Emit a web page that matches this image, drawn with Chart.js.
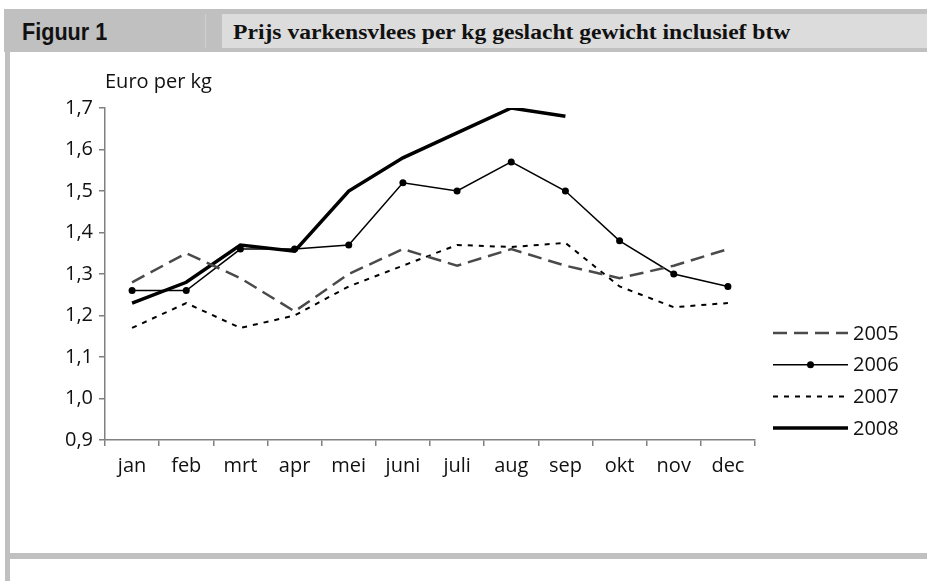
<!DOCTYPE html>
<html>
<head>
<meta charset="utf-8">
<script src="https://cdn.jsdelivr.net/npm/chart.js@4.4.0/dist/chart.umd.min.js"></script>
<style>
  html, body { margin: 0; padding: 0; background: #fff; }
  #wrap { position: relative; width: 927px; height: 581px; overflow: hidden; }
  .blk { position: absolute; background: #c0c0c0; }
  #fig { position: absolute; left: 22px; top: 9px; height: 43px;
         font: bold 24px "Liberation Sans", sans-serif; line-height: 45px; color: #111;
         transform: scaleX(0.9); transform-origin: left center; white-space: nowrap; }
  #title { position: absolute; left: 222px; top: 14px; right: 0; height: 34px; background: #dcdcdc; }
  #title span { position: absolute; left: 11px; top: 0; white-space: nowrap;
                font: bold 20px "Liberation Serif", serif; line-height: 37px; color: #111;
                transform: scaleX(1.18); transform-origin: left center; }
  #c { position: absolute; left: 0; top: 0; }
</style>
</head>
<body>
<div id="wrap">
  <div class="blk" style="left:4px;top:9px;width:923px;height:43px"></div>
  <div style="position:absolute;left:205px;top:14px;width:1px;height:34px;background:#d0d0d0"></div>
  <div id="fig">Figuur 1</div>
  <div id="title"><span>Prijs varkensvlees per kg geslacht gewicht inclusief btw</span></div>
  <div class="blk" style="left:5px;top:52px;width:5px;height:529px"></div>
  <div class="blk" style="left:5px;top:553px;width:922px;height:6px"></div>
  <canvas id="c" width="927" height="581"></canvas>
</div>
<script>
// maanden en prijzen (euro per kg)
const months = ["jan", "feb", "mrt", "apr", "mei", "juni", "juli", "aug", "sep", "okt", "nov", "dec"];
const years = ["2005", "2006", "2007", "2008"];
const prijs2005 = [1.28, 1.35, 1.29, 1.21, 1.30, 1.36, 1.32, 1.36, 1.32, 1.29, 1.32, 1.36];
const prijs2006 = [1.26, 1.26, 1.36, 1.36, 1.37, 1.52, 1.50, 1.57, 1.50, 1.38, 1.30, 1.27];
const prijs2007 = [1.17, 1.23, 1.17, 1.20, 1.27, 1.32, 1.37, 1.365, 1.375, 1.27, 1.22, 1.23];
const prijs2008 = [1.23, 1.28, 1.37, 1.355, 1.50, 1.58, 1.64, 1.70, 1.68];
const yTicks = [0.9, 1.0, 1.1, 1.2, 1.3, 1.4, 1.5, 1.6, 1.7];

const FONT = { family: "'Open Sans', sans-serif", size: 20 };
const AXIS = "#808080";

// legenda rechts: lijnstukje + jaartal
const legendPlugin = {
  id: "sideLegend",
  afterDraw(chart) {
    const { ctx } = chart;
    const x0 = 773, x1 = 848, top = 333, step = 31.7;
    chart.data.datasets.forEach((ds, i) => {
      const y = top + i * step;
      ctx.save();
      ctx.strokeStyle = ds.borderColor;
      ctx.lineWidth = ds.borderWidth;
      ctx.setLineDash(ds.borderDash || []);
      ctx.beginPath();
      ctx.moveTo(x0, y);
      ctx.lineTo(x1, y);
      ctx.stroke();
      ctx.setLineDash([]);
      if (ds.pointRadius > 0) {
        ctx.fillStyle = ds.pointBackgroundColor;
        ctx.beginPath();
        ctx.arc((x0 + x1) / 2, y, ds.pointRadius, 0, Math.PI * 2);
        ctx.fill();
      }
      ctx.fillStyle = "#111";
      ctx.font = `${FONT.size}px ${FONT.family}`;
      ctx.textBaseline = "middle";
      ctx.fillText(ds.label, 853, y + 1);
      ctx.restore();
    });
    // eenheid boven de y-as
    ctx.save();
    ctx.fillStyle = "#111";
    ctx.font = `${FONT.size}px ${FONT.family}`;
    ctx.textBaseline = "middle";
    ctx.fillText("Euro per kg", 105, 82);
    ctx.restore();
  }
};

new Chart(document.getElementById("c"), {
  type: "line",
  data: {
    labels: months,
    datasets: [
      {
        label: years[0],
        data: prijs2005,
        borderColor: "#4a4a4a",
        borderWidth: 2.5,
        borderDash: [14, 7],
        pointRadius: 0
      },
      {
        label: years[1],
        data: prijs2006,
        borderColor: "#000",
        borderWidth: 1.5,
        pointRadius: 3.5,
        pointBackgroundColor: "#000",
        pointBorderWidth: 0
      },
      {
        label: years[2],
        data: prijs2007,
        borderColor: "#000",
        borderWidth: 2,
        borderDash: [5, 6],
        pointRadius: 0
      },
      {
        label: years[3],
        data: prijs2008,
        borderColor: "#000",
        borderWidth: 3.5,
        pointRadius: 0
      }
    ]
  },
  options: {
    responsive: false,
    animation: false,
    events: [],
    layout: { padding: { left: 0, top: 108, right: 172, bottom: 101 } },
    plugins: {
      legend: { display: false },
      tooltip: { enabled: false }
    },
    scales: {
      x: {
        offset: true,
        grid: { offset: true, drawOnChartArea: false, tickLength: 6, color: AXIS, lineWidth: 1.5 },
        border: { color: AXIS, width: 1.5 },
        ticks: { color: "#111", font: FONT, padding: 8, maxRotation: 0, autoSkip: false },
        afterFit: s => { s.height = 40; }
      },
      y: {
        min: 0.9,
        max: 1.7,
        afterBuildTicks: s => { s.ticks = yTicks.map(v => ({ value: v })); },
        grid: { drawOnChartArea: false, tickLength: 6, color: AXIS, lineWidth: 1.5 },
        border: { color: AXIS, width: 1.5 },
        ticks: {
          color: "#111",
          font: FONT,
          padding: 6,
          callback: v => v.toFixed(1).replace(".", ",")
        },
        afterFit: s => { s.width = 105; }
      }
    }
  },
  plugins: [legendPlugin]
});
</script>
</body>
</html>
